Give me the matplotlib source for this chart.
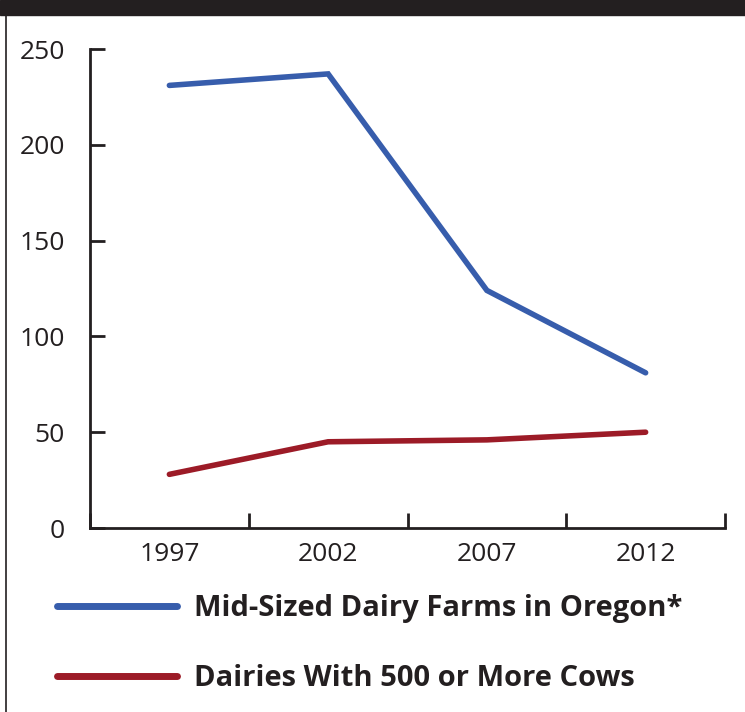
import matplotlib
matplotlib.use('Agg')
import matplotlib.pyplot as plt
from matplotlib.patches import Rectangle
from matplotlib.lines import Line2D

# values
years = ['1997', '2002', '2007', '2012']
midSized = [231, 237, 124, 81]
bigDairies = [28, 45, 46, 50]
yTicks = [0, 50, 100, 150, 200, 250]

blue = '#375DAC'
red = '#9C1B27'
ink = '#231F20'

plt.rcParams['font.family'] = ['Open Sans', 'DejaVu Sans']

fig = plt.figure(figsize=(7.45, 7.12), dpi=100)
ax = fig.add_axes([90 / 745, 1 - 528 / 712, 635 / 745, 479 / 712])

x = list(range(len(years)))
ax.plot(x, midSized, color=blue, lw=4, solid_capstyle='round', solid_joinstyle='miter',
        label='Mid-Sized Dairy Farms in Oregon*')
ax.plot(x, bigDairies, color=red, lw=4, solid_capstyle='round', solid_joinstyle='miter',
        label='Dairies With 500 or More Cows')

ax.set_xlim(-0.5, len(years) - 0.5)
ax.set_ylim(0, 250)
ax.set_yticks(yTicks)
ax.set_yticklabels([str(v) for v in yTicks])
ax.set_xticks(x)
ax.set_xticklabels(years)
ax.set_xticks([i - 0.5 for i in range(len(years) + 1)], minor=True)

for s in ['top', 'right']:
    ax.spines[s].set_visible(False)
for s in ['left', 'bottom']:
    ax.spines[s].set_color(ink)
    ax.spines[s].set_linewidth(2)

ax.tick_params(axis='y', direction='in', length=11, width=2, color=ink,
               labelsize=19, labelcolor=ink, pad=18)
ax.tick_params(axis='x', which='major', length=0, labelsize=19, labelcolor=ink, pad=10)
ax.tick_params(axis='x', which='minor', direction='in', length=11, width=2, color=ink)

leg = fig.legend(loc='upper left', bbox_to_anchor=(31 / 745, 1 - 568 / 712),
                 frameon=False, handlelength=4.1, handletextpad=0.6,
                 labelspacing=1.4, prop={'weight': 'bold', 'size': 21})
for t in leg.get_texts():
    t.set_color(ink)
for h in leg.legend_handles:
    h.set_linewidth(5)

# black band on top and the box's left border
fig.patches.append(Rectangle((0, 1 - 15 / 712), 1, 15 / 712, transform=fig.transFigure,
                             color=ink, zorder=5))
fig.lines.append(Line2D([6 / 745, 6 / 745], [0, 1], transform=fig.transFigure,
                        color=ink, lw=1.2))

fig.savefig('out.png', dpi=100)
